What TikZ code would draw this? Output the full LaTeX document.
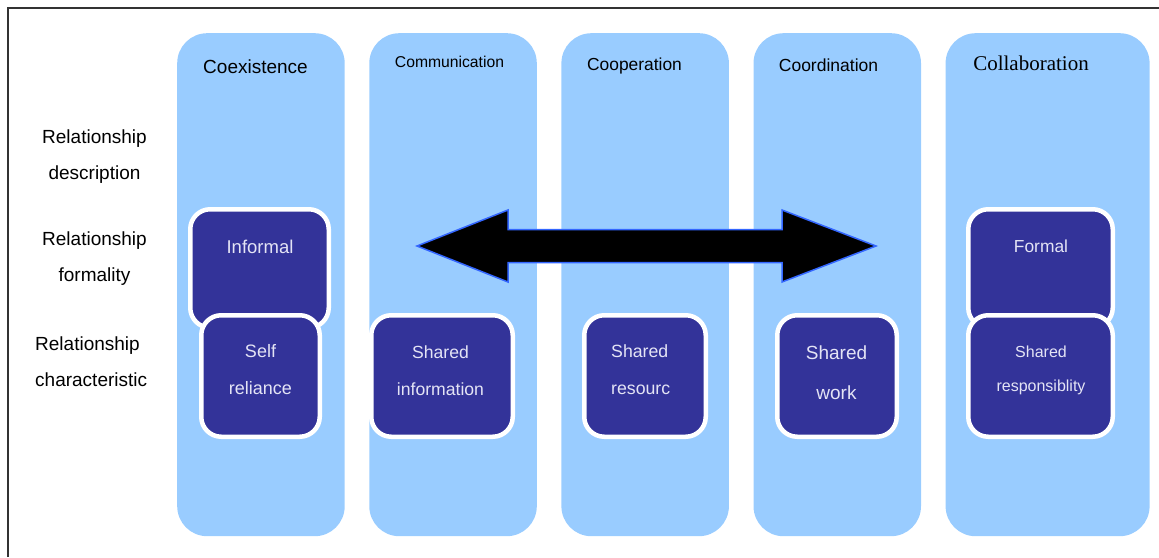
\documentclass[tikz,border=0pt]{standalone}
\usepackage{fontspec}
\setmainfont{Liberation Sans}
\newfontfamily\timesfont{Liberation Serif}
\usetikzlibrary{positioning}
\definecolor{lightblue}{RGB}{153,204,255}
\definecolor{darkblue}{RGB}{51,51,153}
\definecolor{palelilac}{RGB}{228,228,245}
\definecolor{arrowblue}{RGB}{51,102,255}
\begin{document}
\begin{tikzpicture}[x=1pt,y=-1pt,node distance=24.2pt,
     column/.style={fill=lightblue,rounded corners=30pt,inner sep=0pt,
       minimum width=167.5pt,minimum height=503pt},
     darkbox/.style={fill=darkblue,draw=white,line width=4.5pt,
       rounded corners=20pt,inner sep=0pt},
     boxtext/.style={text=palelilac,align=center,inner sep=0pt},
     sidetext/.style={align=center,inner sep=0pt,
       font=\fontsize{19}{36}\selectfont}]

      \useasboundingbox (0,0) rectangle (1159,557);
      \draw[black!80,line width=1.6pt] (8,557) |- (1159,8);

      % columns
      \node[column,anchor=north west] (c1) at (177,33) {};
      \node[column] (c2) [right=of c1] {};
      \node[column] (c3) [right=of c2] {};
      \node[column] (c4) [right=of c3] {};
      \node[column,minimum width=204pt] (c5) [right=of c4] {};

      \node[font=\fontsize{19}{22}\selectfont] (t1) at (255.5,67) {Coexistence};
      \node[font=\fontsize{15.7}{18}\selectfont] (t2) at (449.5,62) {Communication};
      \node[font=\fontsize{17.4}{20}\selectfont] (t3) at (634.5,66) {Cooperation};
      \node[font=\fontsize{17.5}{20}\selectfont] (t4) at (828.5,65) {Coordination};
      \node[font=\timesfont\fontsize{21}{24}\selectfont] (t5) at (1031,63) {Collaboration};

      % left labels
      \node[sidetext] (desc) at (94.5,157) {Relationship\\description};
      \node[sidetext] (form) at (94.5,258.5) {Relationship\\formality};
      \node[sidetext,align=left,anchor=west] (char) at (35,362) {Relationship\\characteristic};

      % boxes
      \node[darkbox,minimum width=138.5pt,minimum height=118.5pt] (informal) at (259.5,268.5) {};
      \node[darkbox,minimum width=144.5pt,minimum height=118.5pt] (formal) at (1040.5,268.5) {};
      \node[darkbox,minimum width=118.5pt,minimum height=121.5pt] (self) at (260.5,376) {};
      \node[darkbox,minimum width=141.5pt,minimum height=121.5pt] (info) at (442,376) {};
      \node[darkbox,minimum width=121.5pt,minimum height=121.5pt] (resource) at (645,376) {};
      \node[darkbox,minimum width=119.5pt,minimum height=121.5pt] (work) at (837,376) {};
      \node[darkbox,minimum width=144.5pt,minimum height=121.5pt] (resp) at (1040.5,376) {};

      \node[boxtext,font=\fontsize{18.5}{22}\selectfont] (tinformal) at (260,247) {Informal};
      \node[boxtext,font=\fontsize{17.4}{20}\selectfont] (tformal) at (1041,246) {Formal};
      \node[boxtext,font=\fontsize{18}{37}\selectfont] (tself) at (260.5,369.5) {Self\\reliance};
      \node[boxtext,font=\fontsize{17.6}{37}\selectfont] (tinfo) at (440.5,370.5) {Shared\\information};
      \node[boxtext,align=left,anchor=west,font=\fontsize{17.7}{37}\selectfont] (tresource) at (611,369.5) {Shared\\resourc};
      \node[boxtext,font=\fontsize{19}{40}\selectfont] (twork) at (836.5,373) {Shared\\work};
      \node[boxtext,font=\fontsize{16}{34}\selectfont] (tresp) at (1041,370) {Shared\\responsiblity};

      % double arrow
      \coordinate (mid) at (646.5,246);
      \draw[fill=black,draw=arrowblue,line width=1.5pt,line join=miter,shift={(mid)}]
        (-229.5,0) -- (-138.5,-36) -- (-138.5,-16.5) -- (135.5,-16.5) -- (135.5,-36)
        -- (229.5,0) -- (135.5,36) -- (135.5,16.5) -- (-138.5,16.5) -- (-138.5,36) -- cycle;
    \end{tikzpicture}
\end{document}
